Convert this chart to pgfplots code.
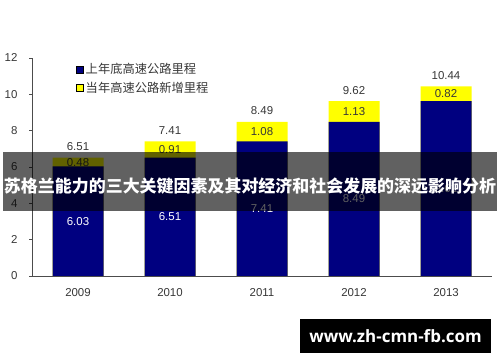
\documentclass[border=0pt]{standalone}
\usepackage{graphicx}
\usepackage{pgfplots}
\pgfplotsset{compat=1.18}
\usepackage{fontspec}
\setmainfont{Liberation Sans}
\newfontfamily\cjk{Noto Sans CJK SC}
\newfontfamily\urlfont{Open Sans}
\definecolor{navybar}{RGB}{0,0,128}
\definecolor{yellowbar}{RGB}{255,255,0}
\definecolor{txt}{RGB}{55,55,55}
\begin{document}
\begin{tikzpicture}
\path[use as bounding box] (0bp,0bp) rectangle (500bp,362bp);
\begin{axis}[
  at={(32bp,86bp)}, anchor=south west,
  scale only axis, width=460bp, height=218bp,
  xmin=-0.5, xmax=4.5, ymin=0, ymax=12,
  axis x line*=bottom, axis y line*=left,
  axis line style={color=black!70, line width=0.8pt},
  xtick={0,1,2,3,4},
  xticklabels={2009,2010,2011,2012,2013},
  x tick style={draw=none},
  extra x ticks={0.5,1.5,2.5,3.5,4.5},
  extra x tick labels={},
  extra x tick style={tick align=inside, major tick length=3bp, tick style={draw=black!70, line width=0.6pt}},
  ytick={0,2,4,6,8,10,12},
  y tick style={draw=black!70, line width=0.6pt},
  tick align=outside, major tick length=3bp,
  /pgf/number format/assume math mode=true,
  tick label style={font=\fontsize{11.5}{13}\selectfont, color=txt},
  yticklabel style={xshift=-8bp},
  xticklabel style={yshift=-6bp},
  legend style={at={(axis description cs:0.096,0.985)}, anchor=north west,
    draw=none, fill=none, inner sep=0pt, row sep=3bp,
    font=\cjk\fontsize{12.3}{14}\selectfont, text=txt,
    /tikz/every even column/.append style={column sep=1bp}},
  legend cell align=left,
  legend image code/.code={\fill[#1] (0bp,-3.5bp) rectangle (7bp,3.5bp);},
]
\addplot[ybar, bar width=51bp, bar shift=0pt, fill=yellowbar, draw=none, forget plot]
  coordinates {(0,6.51)(1,7.41)(2,8.49)(3,9.62)(4,10.44)};
\addplot[ybar, bar width=51bp, bar shift=0pt, fill=navybar, draw=none, forget plot]
  coordinates {(0,6.03)(1,6.51)(2,7.41)(3,8.49)(4,9.62)};
% totals above bars
\addplot[draw=none, mark=none, forget plot, nodes near coords, point meta=explicit symbolic,
  nodes near coords style={anchor=base, yshift=7bp, inner sep=0pt, font=\fontsize{11.5}{13}\selectfont, text=txt}]
  coordinates {(0,6.51)[6.51] (1,7.41)[7.41] (2,8.49)[8.49] (3,9.62)[9.62] (4,10.44)[10.44]};
% yellow segment labels
\addplot[draw=none, mark=none, forget plot, nodes near coords, point meta=explicit symbolic,
  nodes near coords style={anchor=center, inner sep=0pt, font=\fontsize{11.5}{13}\selectfont, text=txt}]
  coordinates {(0,6.27)[0.48] (1,6.96)[0.91] (2,7.95)[1.08] (3,9.055)[1.13] (4,10.03)[0.82]};
% navy segment labels
\addplot[draw=none, mark=none, forget plot, nodes near coords, point meta=explicit symbolic,
  nodes near coords style={anchor=center, inner sep=0pt, font=\fontsize{11.5}{13}\selectfont, text=white}]
  coordinates {(0,3.015)[6.03] (1,3.255)[6.51] (2,3.705)[7.41] (3,4.245)[8.49] (4,4.81)[9.62]};
\addlegendimage{fill=navybar}
\addlegendentry{上年底高速公路里程}
\addlegendimage{fill=yellowbar}
\addlegendentry{当年高速公路新增里程}
\end{axis}
% overlay banner
\fill[black, opacity=0.62] (3bp,151bp) rectangle (497bp,210bp);
\node[text=white, inner sep=0pt] at (250bp,176bp)
  {\resizebox{492bp}{!}{\cjk\bfseries\fontsize{20}{22}\selectfont 苏格兰能力的三大关键因素及其对经济和社会发展的深远影响分析}};
% url box
\fill[black] (300bp,9bp) rectangle (491bp,43bp);
\node[text=white, inner sep=0pt, font=\urlfont\bfseries\fontsize{17}{19}\selectfont] at (395.5bp,26bp)
  {www.zh-cmn-fb.com};
\end{tikzpicture}
\end{document}
